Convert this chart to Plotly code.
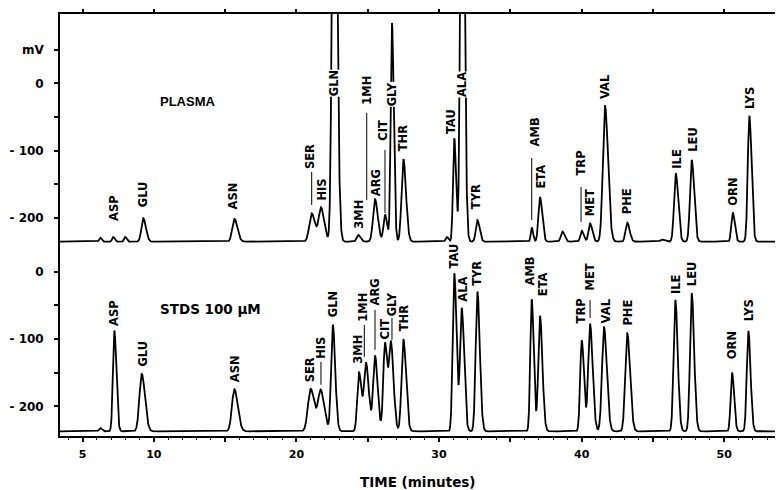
import numpy as np
import plotly.graph_objects as go

# ---------------- data ----------------
# Upper panel (PLASMA): retention time (min), apex (mV), peak sigma (min)
plasma_rt = [6.23, 7.14, 7.98, 9.26, 15.65, 21.07, 21.72, 22.64, 24.34, 25.51, 26.21, 26.70,
             27.50, 30.54, 31.07, 31.61, 32.69, 36.50, 37.08, 38.65, 40.01, 40.59, 41.64,
             43.20, 45.62, 46.60, 47.72, 50.60, 51.76]
plasma_mv = [-229, -228, -228, -200, -201, -193, -185, 600, -225, -172, -195, 89.5,
             -112.6, -228, -81.4, 600, -203, -214, -169, -220, -219, -208, -33.4,
             -207, -232, -133.4, -113.7, -192, -48.3]
plasma_sd = [0.07, 0.07, 0.07, 0.13, 0.15, 0.17, 0.16, 0.13, 0.11, 0.14, 0.11, 0.09,
             0.13, 0.08, 0.09, 0.11, 0.11, 0.07, 0.11, 0.11, 0.10, 0.11, 0.15,
             0.12, 0.12, 0.12, 0.12, 0.10, 0.11]
plasma_base = -235

# Lower panel (STDS 100 uM)
std_rt = [6.23, 7.23, 9.15, 15.65, 21.00, 21.70, 22.55, 24.39, 24.88, 25.51, 26.21, 26.63,
          27.50, 31.07, 31.59, 32.69, 36.50, 37.08, 40.01, 40.59, 41.57, 43.20, 46.57,
          47.72, 50.55, 51.69]
std_mv = [-232, -87.5, -151.8, -174.5, -174, -177, -79, -149.8, -136, -125, -106, -108.8,
          -100, -2.4, -54.3, -29.7, -41, -65.7, -102, -77.6, -82.5, -91.4, -42,
          -32, -149.8, -88]
std_sd = [0.08, 0.10, 0.16, 0.17, 0.19, 0.18, 0.12, 0.12, 0.14, 0.13, 0.12, 0.13,
          0.13, 0.11, 0.12, 0.12, 0.10, 0.12, 0.11, 0.13, 0.14, 0.14, 0.12,
          0.12, 0.10, 0.11]
std_base = -237

# Peak labels: name, x (min), y of label foot (mV)
plasma_lab = ["ASP", "GLU", "ASN", "SER", "HIS", "GLN", "3MH", "1MH", "ARG", "CIT", "GLY", "THR",
              "TAU", "ALA", "TYR", "AMB", "ETA", "TRP", "MET", "VAL", "PHE", "ILE", "LEU", "ORN", "LYS"]
plasma_lab_rt = [7.21, 9.26, 15.62, 21.00, 21.77, 22.59, 24.41, 24.97, 25.63, 26.09, 26.73, 27.50,
                 30.89, 31.66, 32.64, 36.73, 37.13, 39.96, 40.64, 41.69, 43.20, 46.67, 47.83, 50.60, 51.81]
plasma_lab_mv = [-205.8, -185, -188, -128.5, -176, -20, -217.7, -33.4, -168.6, -87, -35, -101.8,
                 -76.5, -21.5, -188, -95.8, -158.2, -139, -198.4, -24.5, -195.4, -128.5, -103.3, -183.5, -39.4]
plasma_offscale = ["GLN", "GLY", "ALA"]

std_lab = ["ASP", "GLU", "ASN", "SER", "HIS", "GLN", "3MH", "1MH", "ARG", "CIT", "GLY", "THR",
           "TAU", "ALA", "TYR", "AMB", "ETA", "TRP", "MET", "VAL", "PHE", "ILE", "LEU", "ORN", "LYS"]
std_lab_rt = [7.21, 9.22, 15.69, 20.95, 21.72, 22.59, 24.34, 24.69, 25.51, 26.21, 26.73, 27.57,
              31.05, 31.70, 32.69, 36.38, 37.31, 39.96, 40.59, 41.71, 43.23, 46.62, 47.79, 50.57, 51.76]
std_lab_mv = [-82, -142.9, -165, -165, -131, -68.7, -138.4, -76, -52.4, -101.3, -67.2, -89.5,
              2.5, -46.4, -22.7, -22.7, -37.5, -79, -30.1, -79, -82, -34.6, -22.7, -131, -74.6]

# Leader lines under labels: x (min), from mV, to mV
plasma_lead_rt = [21.07, 24.93, 26.21, 36.50, 39.96]
plasma_lead_y0 = [-131.5, -43.8, -98.8, -110.7, -153.8]
plasma_lead_y1 = [-180.5, -173, -192.4, -202.8, -205.8]
std_lead_rt = [21.72, 24.76, 25.51, 26.70, 40.59]
std_lead_y0 = [-134, -79, -56.8, -68.7, -42]
std_lead_y1 = [-168, -126.6, -116, -101, -68.7]

x_ticks = [5, 10, 15, 20, 25, 30, 35, 40, 45, 50]
x_tick_text = ["5", "10", "", "20", "", "30", "", "40", "", "50"]
y_top_ticks = [50, 0, -50, -100, -150, -200]
y_top_text = ["mV", "0", "", "- 100", "", "- 200"]
y_bot_ticks = [0, -50, -100, -150, -200]
y_bot_text = ["0", "", "- 100", "", "- 200"]

X_RANGE = [3.42, 53.56]


def chromatogram(rt, mv, sd, base):
    t = np.linspace(X_RANGE[0], X_RANGE[1], 8000)
    y = np.full_like(t, float(base))
    for r, h, s in zip(rt, mv, sd):
        d = t - r
        sig = np.where(d < 0, s, s * 1.4)
        y += (h - base) * np.exp(-0.5 * (d / sig) ** 2)
    return t, y


fig = go.Figure()
tp, yp = chromatogram(plasma_rt, plasma_mv, plasma_sd, plasma_base)
ts, ys = chromatogram(std_rt, std_mv, std_sd, std_base)
fig.add_trace(go.Scatter(x=tp, y=yp, mode="lines", line=dict(color="black", width=1.8),
                         xaxis="x", yaxis="y", hoverinfo="skip"))
fig.add_trace(go.Scatter(x=ts, y=ys, mode="lines", line=dict(color="black", width=1.8),
                         xaxis="x2", yaxis="y2", hoverinfo="skip"))

lab_font = dict(family="DejaVu Sans", size=11.5, color="black", weight="bold")
ann = []
for n, x, y in zip(plasma_lab, plasma_lab_rt, plasma_lab_mv):
    ann.append(dict(x=x, y=y, xref="x", yref="y", text=n, showarrow=False, textangle=-90,
                    xanchor="center", yanchor="bottom", font=lab_font, borderpad=0,
                    bgcolor="white" if n in plasma_offscale else None))
for n, x, y in zip(std_lab, std_lab_rt, std_lab_mv):
    ann.append(dict(x=x, y=y, xref="x2", yref="y2", text=n, showarrow=False, textangle=-90,
                    xanchor="center", yanchor="bottom", font=lab_font, borderpad=0))

ann.append(dict(x=12.43, y=-27, xref="x", yref="y", text="PLASMA", showarrow=False,
                font=dict(family="Liberation Sans", size=13, color="black", weight="bold")))
ann.append(dict(x=13.94, y=-55.8, xref="x2", yref="y2", text="STDS 100 µM", showarrow=False,
                font=dict(family="DejaVu Sans", size=13.5, color="black", weight="bold")))
ann.append(dict(x=0.5, y=-0.108, xref="paper", yref="paper", text="TIME (minutes)", showarrow=False,
                yanchor="middle", font=dict(family="DejaVu Sans", size=13.5, color="black", weight="bold")))

shapes = []
for x, a, b in zip(plasma_lead_rt, plasma_lead_y0, plasma_lead_y1):
    shapes.append(dict(type="line", xref="x", yref="y", x0=x, x1=x, y0=a, y1=b,
                       line=dict(color="black", width=1)))
for x, a, b in zip(std_lead_rt, std_lead_y0, std_lead_y1):
    shapes.append(dict(type="line", xref="x2", yref="y2", x0=x, x1=x, y0=a, y1=b,
                       line=dict(color="black", width=1)))

tick_font = dict(family="DejaVu Sans", size=12, color="black", weight="bold")
axis_common = dict(showgrid=False, zeroline=False, showline=True, linecolor="black", linewidth=1.8,
                   ticks="outside", tickcolor="black", tickwidth=1.5, automargin=False)

fig.update_layout(
    width=779, height=490,
    margin=dict(l=60, r=4, t=14, b=54, autoexpand=False),
    paper_bgcolor="white", plot_bgcolor="white",
    showlegend=False,
    annotations=ann, shapes=shapes,
    xaxis=dict(domain=[0, 1], anchor="y", side="top", range=X_RANGE, tickvals=x_ticks,
               showticklabels=False, ticklen=3, **axis_common),
    yaxis=dict(domain=[0.4526, 1], anchor="x", range=[-240, 103], tickvals=y_top_ticks,
               ticktext=y_top_text, ticklen=4, ticklabelstandoff=8, tickfont=tick_font, **axis_common),
    xaxis2=dict(domain=[0, 1], anchor="y2", matches="x", range=X_RANGE, tickvals=x_ticks,
                ticktext=x_tick_text, ticklen=4, ticklabelstandoff=3,
                tickfont=dict(family="DejaVu Sans", size=11, color="black", weight="bold"),
                minor=dict(dtick=1, ticklen=2, ticks="outside", tickcolor="black", tickwidth=1),
                **axis_common),
    yaxis2=dict(domain=[0, 0.4526], anchor="x2", range=[-244, 39.6], tickvals=y_bot_ticks,
                ticktext=y_bot_text, ticklen=4, ticklabelstandoff=8, tickfont=tick_font, **axis_common),
)

fig.write_html("out.html", config={"displayModeBar": False},
               post_script="document.body.style.margin='0';document.body.style.overflow='hidden';")
